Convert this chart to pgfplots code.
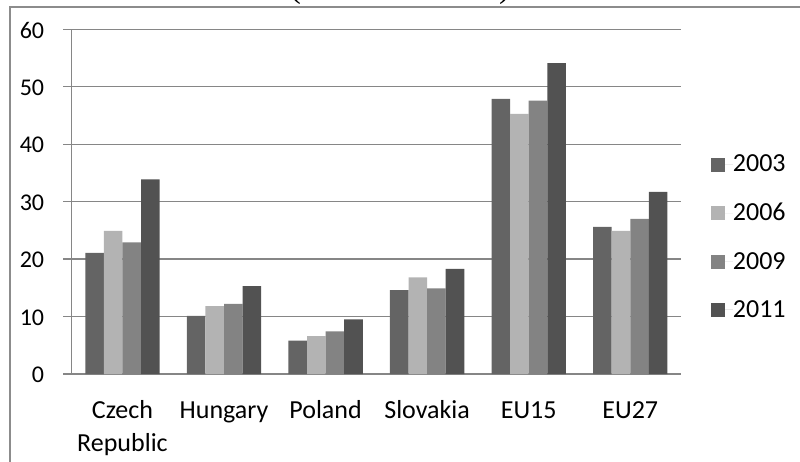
\documentclass[border=0pt]{standalone}
\usepackage{fontspec}
\setmainfont{Carlito}
\newfontfamily\titlefont{Liberation Serif}
\usepackage{pgfplots}
\pgfplotsset{compat=1.18}
\definecolor{cA}{HTML}{646464}
\definecolor{cB}{HTML}{B3B3B3}
\definecolor{cC}{HTML}{838383}
\definecolor{cD}{HTML}{525252}
\definecolor{gridgray}{HTML}{868686}
\definecolor{framegray}{HTML}{8C8C8C}
% common strut so that every category label sits on the same baseline
\newcommand{\lbl}{\vphantom{Hl}}

\begin{document}
\begin{tikzpicture}
\useasboundingbox (0,0) rectangle (600pt,345.75pt);
\clip (0,0) rectangle (600pt,345.75pt);
% heading, only its lower edge falls inside the frame
\node[anchor=base, font=\titlefont\fontsize{25}{30}\selectfont, inner sep=0pt] at (300pt,347.8pt) {(as a \% of GDP)};
% chart area border
\draw[framegray, line width=1.5pt] (7.5pt,-2pt) -- (7.5pt,340.3pt) -- (602pt,340.3pt);
\begin{axis}[
  at={(53.775pt,65.25pt)}, anchor=south west,
  width=457pt, height=258.5pt, scale only axis,
  ybar, bar width=0.183,
  xmin=-0.5, xmax=5.5, ymin=0, ymax=60,
  ytick={0,10,...,60},
  xtick={0,...,5},
  xticklabels={{\lbl Czech\\Republic},\lbl Hungary,\lbl Poland,\lbl Slovakia,\lbl EU15,\lbl EU27},
  minor xtick={-0.5,0.5,...,5.5},
  axis x line*=bottom, axis y line*=left,
  axis line style={gridgray, line width=1pt, -},
  ymajorgrids, major grid style={gridgray, line width=1pt},
  tick align=outside,
  major tick length=6.5pt, minor tick length=5.8pt,
  xtick style={draw=none},
  ytick style={gridgray, line width=1pt},
  minor x tick style={gridgray, line width=1pt},
  /pgf/number format/assume math mode=true,
  yticklabel style={font=\fontsize{18}{20}\selectfont, anchor=east, inner sep=0pt, xshift=-14pt, yshift=-0.8pt},
  xticklabel style={font=\fontsize{19.5}{24.75}\selectfont, align=center, anchor=north, inner sep=0pt, yshift=-12.9pt},
  legend style={at={(1.049,0.397)}, anchor=west, draw=none, fill=none, inner sep=0pt,
    font=\fontsize{19.5}{23}\selectfont, row sep=22pt,
    nodes={inner sep=0pt}},
  legend cell align=left,
  legend image code/.code={\fill[#1] (0pt,-5.25pt) rectangle (10.5pt,5.25pt); \path (0pt,0pt) -- (16.3pt,0pt);},
]
\addplot[fill=cA, draw=none, bar shift=-0.2745] coordinates {(0,21.1) (1,10.1) (2,5.8) (3,14.6) (4,47.9) (5,25.6)};
\addplot[fill=cB, draw=none, bar shift=-0.0915] coordinates {(0,24.9) (1,11.8) (2,6.6) (3,16.8) (4,45.3) (5,24.9)};
\addplot[fill=cC, draw=none, bar shift=0.0915] coordinates {(0,22.9) (1,12.2) (2,7.4) (3,14.9) (4,47.6) (5,27.0)};
\addplot[fill=cD, draw=none, bar shift=0.2745] coordinates {(0,33.9) (1,15.3) (2,9.5) (3,18.3) (4,54.1) (5,31.7)};
\legend{2003,2006,2009,2011}
\end{axis}
\end{tikzpicture}
\end{document}
